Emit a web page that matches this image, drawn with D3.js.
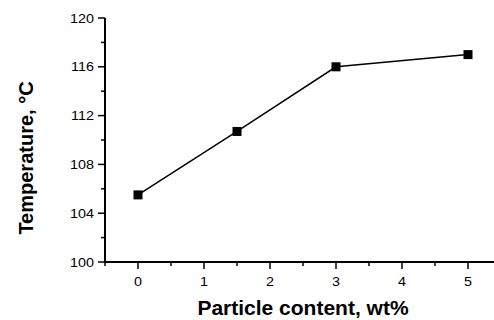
<!DOCTYPE html>
<html>
<head>
<meta charset="utf-8">
<script src="https://cdn.jsdelivr.net/npm/d3@7"></script>
<style>
  body { margin: 0; background: #fff; }
  svg { display: block; font-family: "Liberation Sans", Arial, sans-serif; }
</style>
</head>
<body>
<svg id="chart" width="494" height="320"></svg>
<script>
// particle content (wt%) vs temperature (°C)
const content = [0, 1.5, 3, 5];
const temperature = [105.5, 110.7, 116, 117];
const xTicks = [0, 1, 2, 3, 4, 5];
const yTicks = [100, 104, 108, 112, 116, 120];

const svg = d3.select("#chart");

const x = d3.scaleLinear().domain([-0.5, 5.5]).range([105, 501]);
const y = d3.scaleLinear().domain([100, 120]).range([262, 18]);

// y axis
const yAxis = svg.append("g").attr("transform", "translate(105,0)");
yAxis.append("line")
  .attr("x1", 0).attr("x2", 0)
  .attr("y1", y(100) + 1).attr("y2", y(120))
  .attr("stroke", "#000").attr("stroke-width", 2);
yAxis.selectAll(".minor")
  .data(d3.range(102, 120, 4))
  .enter().append("line")
  .attr("x1", 0).attr("x2", -4)
  .attr("y1", d => y(d)).attr("y2", d => y(d))
  .attr("stroke", "#000").attr("stroke-width", 1.5);
yAxis.selectAll(".major")
  .data(yTicks)
  .enter().append("line")
  .attr("x1", 0).attr("x2", -7)
  .attr("y1", d => y(d)).attr("y2", d => y(d))
  .attr("stroke", "#000").attr("stroke-width", 1.5);
yAxis.selectAll("text")
  .data(yTicks)
  .enter().append("text")
  .attr("transform", d => "translate(-11," + y(d) + ") scale(1.15,1)")
  .attr("dy", "0.36em")
  .attr("text-anchor", "end")
  .style("font-size", "12.5px")
  .text(d => d);

// x axis
const xAxis = svg.append("g").attr("transform", "translate(0," + y(100) + ")");
xAxis.append("line")
  .attr("x1", x(-0.5) - 1).attr("x2", x(5.5))
  .attr("y1", 0).attr("y2", 0)
  .attr("stroke", "#000").attr("stroke-width", 2);
xAxis.selectAll(".minor")
  .data(d3.range(-0.5, 5.5, 1))
  .enter().append("line")
  .attr("x1", d => x(d)).attr("x2", d => x(d))
  .attr("y1", 0).attr("y2", 4)
  .attr("stroke", "#000").attr("stroke-width", 1.5);
xAxis.selectAll(".major")
  .data(xTicks)
  .enter().append("line")
  .attr("x1", d => x(d)).attr("x2", d => x(d))
  .attr("y1", -1).attr("y2", 7)
  .attr("stroke", "#000").attr("stroke-width", 1.5);
xAxis.selectAll("text")
  .data(xTicks)
  .enter().append("text")
  .attr("transform", d => "translate(" + x(d) + ",24) scale(1.15,1)")
  .attr("text-anchor", "middle")
  .style("font-size", "12.5px")
  .text(d => d);

// line + square markers
const points = content.map((c, i) => ({ c: c, t: temperature[i] }));
svg.append("path")
  .datum(points)
  .attr("fill", "none")
  .attr("stroke", "#000")
  .attr("stroke-width", 1.5)
  .attr("d", d3.line().x(d => x(d.c)).y(d => y(d.t)));
svg.selectAll(".pt")
  .data(points)
  .enter().append("rect")
  .attr("x", d => x(d.c) - 4.5)
  .attr("y", d => y(d.t) - 4.5)
  .attr("width", 9)
  .attr("height", 9)
  .attr("fill", "#000");

// axis titles
svg.append("text")
  .attr("x", 303)
  .attr("y", 315)
  .attr("text-anchor", "middle")
  .style("font-size", "21px")
  .style("font-weight", "bold")
  .text("Particle content, wt%");
svg.append("text")
  .attr("transform", "translate(33,158) rotate(-90)")
  .attr("text-anchor", "middle")
  .style("font-size", "20px")
  .style("font-weight", "bold")
  .text("Temperature, °C");
</script>
</body>
</html>
